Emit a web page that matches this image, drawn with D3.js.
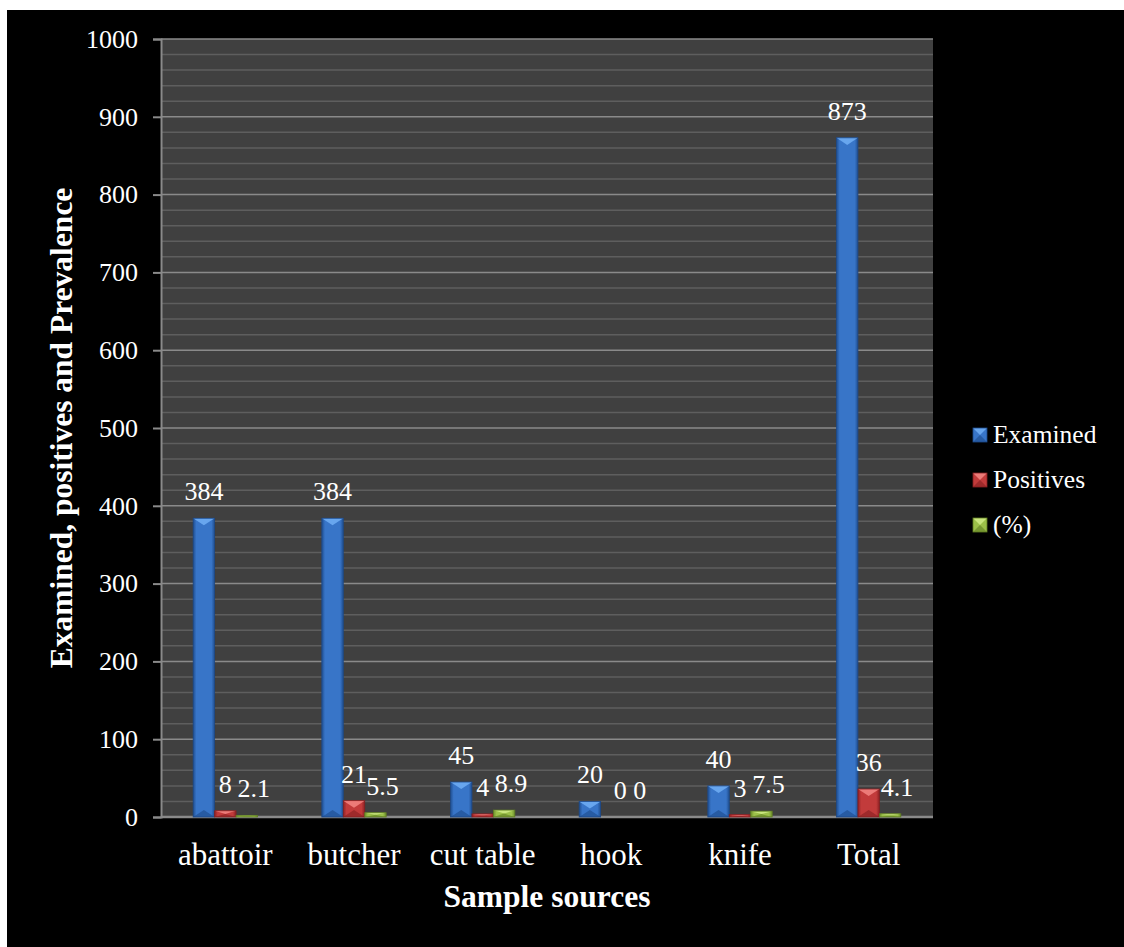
<!DOCTYPE html>
<html>
<head>
    <meta charset="utf-8">
    <title>Sample sources</title>
    <script src="https://cdnjs.cloudflare.com/ajax/libs/d3/7.8.5/d3.min.js"></script>
    <style>
        body { margin: 0; background: #fff; }
        text { font-family: "Liberation Serif", "Times New Roman", serif; fill: #fff; }
    </style>
</head>
<body>
<script type="text/javascript">
    // chart values
    var categories = ["abattoir", "butcher", "cut table", "hook", "knife", "Total"];
    var examined   = [384, 384, 45, 20, 40, 873];
    var positives  = [8, 21, 4, 0, 3, 36];
    var prevalence = [2.1, 5.5, 8.9, 0, 7.5, 4.1];
    var seriesNames = ["Examined", "Positives", "(%)"];

    var width = 1124, height = 947,
        plotLeft = 161, plotRight = 933, plotTop = 39, plotBottom = 817;

    var colors = [
        {base: "#3875c8", dark: "#204f91", light: "#68a6ee", shade: "#1d4a8a"},
        {base: "#c23b3b", dark: "#8e2224", light: "#ec7b78", shade: "#861f21"},
        {base: "#9cc049", dark: "#6e8f2c", light: "#c9e57e", shade: "#5f7d22"}
    ];
    var labelShift = [0, 0, 7];

    var svg = d3.select("body").append("svg")
        .attr("width", width)
        .attr("height", height);

    svg.append("rect")
        .attr("x", 7).attr("y", 10)
        .attr("width", width - 7).attr("height", height - 10)
        .attr("fill", "#000");

    var defs = svg.append("defs");
    colors.forEach(function(c, i){
        var g = defs.append("linearGradient").attr("id", "grad" + i)
            .attr("x1", "0%").attr("x2", "100%").attr("y1", "0%").attr("y2", "0%");
        g.append("stop").attr("offset", "0%").attr("stop-color", c.dark);
        g.append("stop").attr("offset", "15%").attr("stop-color", c.base);
        g.append("stop").attr("offset", "85%").attr("stop-color", c.base);
        g.append("stop").attr("offset", "100%").attr("stop-color", c.dark);
    });

    var y = d3.scaleLinear().domain([0, 1000]).range([plotBottom, plotTop]);
    var x0 = d3.scaleBand().domain(categories).range([plotLeft, plotRight])
        .paddingInner(0.5).paddingOuter(0.25);
    var x1 = d3.scaleBand().domain(d3.range(3)).range([0, x0.bandwidth()]);

    // plot area + gridlines
    svg.append("rect")
        .attr("x", plotLeft).attr("y", plotTop)
        .attr("width", plotRight - plotLeft).attr("height", plotBottom - plotTop)
        .attr("fill", "#404040");

    svg.append("g").selectAll("line")
        .data(d3.range(20, 1000, 20).filter(function(v){ return v % 100 !== 0; }))
        .join("line")
        .attr("x1", plotLeft).attr("x2", plotRight)
        .attr("y1", y).attr("y2", y)
        .attr("stroke", "#5e5e5e").attr("stroke-width", 1.5);

    svg.append("g").selectAll("line")
        .data(d3.range(100, 1001, 100))
        .join("line")
        .attr("x1", plotLeft).attr("x2", plotRight)
        .attr("y1", y).attr("y2", y)
        .attr("stroke", "#8a8a8a").attr("stroke-width", 1.5);

    // y axis
    var yAxis = svg.append("g")
        .attr("transform", "translate(" + plotLeft + ",0)")
        .call(d3.axisLeft(y).tickValues(d3.range(0, 1001, 100))
            .tickFormat(d3.format("d")).tickSize(8).tickPadding(15));
    yAxis.select(".domain").attr("stroke", "#8a8a8a").attr("stroke-width", 2);
    yAxis.selectAll(".tick line").attr("stroke", "#8a8a8a").attr("stroke-width", 2);
    yAxis.selectAll(".tick text")
        .attr("fill", "#fff")
        .style("font-size", "26px")
        .style("font-family", "Liberation Serif, serif");

    // x axis
    svg.append("line")
        .attr("x1", plotLeft).attr("x2", plotRight)
        .attr("y1", plotBottom).attr("y2", plotBottom)
        .attr("stroke", "#8a8a8a").attr("stroke-width", 2.5);

    svg.append("g").selectAll("text")
        .data(categories)
        .join("text")
        .attr("x", function(d){ return x0(d) + x0.bandwidth() / 2; })
        .attr("y", 865)
        .attr("text-anchor", "middle")
        .style("font-size", "31px")
        .text(function(d){ return d; });

    // bars
    var rows = categories.map(function(c, i){
        return {cat: c, vals: [examined[i], positives[i], prevalence[i]]};
    });

    function bevelBar(g, bx, by, bw, bh, c, i){
        if (bh <= 0) return;
        g.append("rect")
            .attr("x", bx).attr("y", by).attr("width", bw).attr("height", bh)
            .attr("fill", "url(#grad" + i + ")");
        var d = Math.min(bw * 0.33, bh / 2);
        g.append("path")
            .attr("d", "M" + bx + "," + by + "L" + (bx + bw) + "," + by +
                "L" + (bx + bw / 2) + "," + (by + d) + "Z")
            .attr("fill", c.light);
        g.append("path")
            .attr("d", "M" + bx + "," + (by + bh) + "L" + (bx + bw) + "," + (by + bh) +
                "L" + (bx + bw / 2) + "," + (by + bh - d) + "Z")
            .attr("fill", c.shade).attr("opacity", 0.6);
        g.append("rect")
            .attr("x", bx).attr("y", by).attr("width", bw).attr("height", bh)
            .attr("fill", "none").attr("stroke", c.shade).attr("stroke-width", 0.8);
    }

    var groups = svg.append("g").selectAll("g")
        .data(rows)
        .join("g")
        .attr("transform", function(d){ return "translate(" + x0(d.cat) + ",0)"; });

    groups.each(function(d){
        var g = d3.select(this);
        d.vals.forEach(function(v, i){
            bevelBar(g, x1(i), y(v), x1.bandwidth(), y(0) - y(v), colors[i], i);
        });
        d.vals.forEach(function(v, i){
            // Excel nudges the empty red label right when the group has zeros
            var shift = labelShift[i] + (i === 1 && v === 0 ? 9 : 0);
            g.append("text")
                .attr("x", x1(i) + x1.bandwidth() / 2 + shift)
                .attr("y", y(v) - 18)
                .attr("text-anchor", "middle")
                .style("font-size", "26px")
                .text(v);
        });
    });

    // titles
    svg.append("text")
        .attr("x", (plotLeft + plotRight) / 2)
        .attr("y", 907)
        .attr("text-anchor", "middle")
        .style("font-size", "31.5px")
        .style("font-weight", "bold")
        .text("Sample sources");

    svg.append("text")
        .attr("transform", "translate(72," + (plotTop + plotBottom) / 2 + ") rotate(-90)")
        .attr("text-anchor", "middle")
        .style("font-size", "31.5px")
        .style("font-weight", "bold")
        .text("Examined, positives and Prevalence");

    // legend
    var legend = svg.append("g").selectAll("g")
        .data(seriesNames)
        .join("g")
        .attr("transform", function(d, i){ return "translate(973," + (428 + i * 45) + ")"; });

    legend.each(function(d, i){
        var g = d3.select(this), c = colors[i];
        g.append("rect").attr("width", 14).attr("height", 14).attr("fill", c.base);
        g.append("path").attr("d", "M0,0L14,0L7,7Z").attr("fill", c.light);
        g.append("path").attr("d", "M0,14L14,14L7,7Z").attr("fill", c.shade).attr("opacity", 0.6);
        g.append("rect").attr("width", 14).attr("height", 14)
            .attr("fill", "none").attr("stroke", c.shade).attr("stroke-width", 0.8);
        g.append("text")
            .attr("x", 20).attr("y", 15)
            .style("font-size", "25.5px")
            .text(d);
    });
</script>
</body>
</html>
